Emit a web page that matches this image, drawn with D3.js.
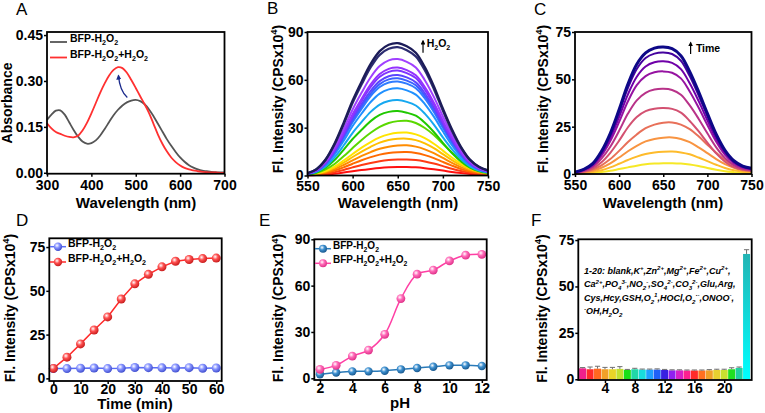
<!DOCTYPE html>
<html lang="en">
<head>
<meta charset="utf-8">
<title>BFP-H2O2 figure</title>
<script src="https://cdn.jsdelivr.net/npm/d3@7"></script>
<style>
  body { margin: 0; background: #fff; }
  svg text { font-family: "Liberation Sans", Arial, sans-serif; fill: #000; }
  .tick text { font-size: 14px; font-weight: bold; }
  .tick line { stroke: #000; stroke-width: 1.5px; }
  .ttl { font-size: 15px; font-weight: bold; }
  .ylab { font-size: 14px; font-weight: bold; }
  .leg { font-size: 10.5px; font-weight: bold; }
  .letter { font-size: 17px; }
  .frame { fill: none; stroke: #000; stroke-width: 1.8px; }
</style>
</head>
<body>
<svg id="fig" width="765" height="413"></svg>
<script>
// ---- A: absorbance ----
var aWave = [300,310,320,330,340,350,360,370,380,390,400,410,420,430,440,450,460,470,480,490,500,
             510,520,530,540,550,560,570,580,590,600,610,620,630,640,650,660,670,680,690,700];
var aProbe = [.173,.19,.203,.204,.19,.165,.14,.118,.102,.095,.097,.106,.122,.143,.166,.188,.206,.22,.23,.236,.238,
              .234,.224,.207,.185,.16,.135,.11,.088,.068,.05,.036,.025,.017,.011,.007,.005,.003,.002,.001,.001];
var aProbeH2O2 = [.162,.145,.133,.127,.121,.117,.116,.121,.138,.163,.194,.228,.262,.292,.318,.336,.345,.342,.327,.303,.277,
                  .25,.224,.195,.16,.125,.095,.07,.05,.035,.024,.016,.011,.008,.005,.003,.002,.001,.001,0,0];
var aTicksX = [300,400,500,600,700];
var aTicksY = [0,0.15,0.30,0.45];

// ---- B: emission vs H2O2 (bottom curve first) ----
var emWave = [550,560,570,580,590,600,610,620,630,640,650,660,670,680,690,700,710,720,730,740,750];
var bSpectra = [
  [0.1,0.3,0.6,1.1,1.9,2.7,3.4,4.1,4.7,5.1,5.3,5.3,5.1,4.6,3.9,3.1,2.2,1.5,0.9,0.5,0.3],
  [0.2,0.5,1.1,2.1,3.5,5.1,6.6,7.9,9,9.7,10,10.1,9.7,8.8,7.5,5.9,4.2,2.8,1.7,1,0.6],
  [0.3,0.7,1.6,3.1,5.1,7.4,9.6,11.5,13.1,14.1,14.6,14.7,14.1,12.8,10.9,8.5,6.2,4.1,2.5,1.5,0.9],
  [0.4,0.9,2.1,4,6.6,9.5,12.3,14.7,16.8,18.1,18.8,18.9,18.1,16.4,14,11,7.9,5.3,3.2,1.9,1.1],
  [0.5,1.2,2.5,4.9,8.1,11.6,15,18,20.6,22.2,23,23.1,22.2,20.1,17.1,13.4,9.7,6.5,3.9,2.3,1.4],
  [0.5,1.3,3,5.6,9.4,13.5,17.5,21,23.9,25.8,26.8,26.9,25.8,23.4,19.9,15.6,11.3,7.5,4.6,2.7,1.6],
  [0.7,1.7,3.8,7.2,12,17.2,22.3,26.8,30.5,32.9,34.1,34.3,32.9,29.8,25.4,19.9,14.4,9.6,5.8,3.4,2.1],
  [0.7,1.9,4.9,9.7,16.1,22.9,28.7,34.1,38,39.9,40.4,39.4,37.5,33.1,27.3,20.5,14.1,8.8,4.9,2.7,1.6],
  [0.9,2.3,5.7,11.4,18.8,26.8,33.6,39.9,44.5,46.7,47.3,46.2,43.9,38.8,31.9,23.9,16.5,10.3,5.7,3.1,1.8],
  [1,2.6,6.6,13.2,21.7,31,38.9,46.1,51.4,54,54.7,53.4,50.7,44.8,36.9,27.7,19.1,11.9,6.6,3.6,2.1],
  [1.1,2.8,7.1,14.2,23.5,33.4,41.9,49.8,55.5,58.3,59,57.6,54.7,48.3,39.8,29.9,20.6,12.8,7.1,3.9,2.3],
  [1.1,2.9,7.4,14.7,24.3,34.5,43.4,51.4,57.3,60.3,61,59.5,56.6,50,41.2,30.9,21.3,13.2,7.4,4,2.4],
  [1.1,3,7.6,15.2,25,35.7,44.8,53.1,59.2,62.2,63,61.5,58.4,51.6,42.5,31.9,22,13.7,7.6,4.2,2.4],
  [1.2,3.2,7.9,15.9,26.2,37.3,46.8,55.5,61.9,65,65.8,64.2,61.1,53.9,44.4,33.3,23,14.3,7.9,4.4,2.5],
  [1.2,3.3,8.2,16.3,26.9,38.4,48.1,57.1,63.6,66.9,67.7,66.1,62.8,55.5,45.7,34.3,23.7,14.7,8.2,4.5,2.6],
  [1.3,3.5,8.8,17.6,29,41.4,52,61.6,68.6,72.2,73,71.3,67.8,59.8,49.3,37,25.5,15.8,8.8,4.8,2.8],
  [1.4,3.9,9.7,19.4,32,45.6,57.2,67.9,75.7,79.5,80.5,78.6,74.7,66,54.3,40.7,28.1,17.5,9.7,5.3,3.1],
  [1.5,4,10,20,33,47,59,70,78,82,83,81,77,68,56,42,29,18,10,5.5,3.2]
];
var bColors = ["#ff1010","#ff3a14","#ff6a00","#ff8c00","#ffc000","#ffe400","#5ad800","#20c800","#16a8f0",
               "#2090ff","#2f7cff","#3a62ff","#5a46ff","#7e34ff","#9432ff","#a040ff","#2c2c70","#1c1c58"];
var bTicksY = [0,30,60,90];
var emTicksX = [550,600,650,700,750];

// ---- C: emission vs time (bottom curve first) ----
var cSpectra = [
  [0.1,0.3,0.5,1,1.7,2.6,3.5,4.4,5.1,5.5,5.7,5.7,5.5,5,4.2,3.2,2.3,1.5,1,0.6,0.4],
  [0.2,0.5,1.1,2,3.5,5.4,7.4,9.2,10.6,11.4,11.8,11.9,11.4,10.4,8.7,6.8,4.9,3.2,2,1.2,0.8],
  [0.4,0.9,1.7,3.3,5.6,8.7,12,14.9,17.2,18.5,19.2,19.3,18.5,16.8,14.1,11,7.9,5.2,3.3,1.9,1.4],
  [0.5,1.2,2.4,4.6,7.9,12.2,16.9,20.9,24.2,26.1,27.1,27.2,26.1,23.7,19.9,15.5,11.2,7.3,4.6,2.7,1.9],
  [0.5,1.3,2.9,6.2,11.2,17.6,24.7,30.1,33.2,34.5,34.8,34.4,32.4,28,22.6,16.6,10.9,6.5,3.6,2.2,1.6],
  [0.7,1.7,3.7,8.1,14.4,22.8,31.9,38.9,42.9,44.6,45,44.4,41.9,36.2,29.2,21.5,14.1,8.4,4.7,2.8,2],
  [0.8,2,4.4,9.7,17.4,27.5,38.4,46.9,51.7,53.7,54.2,53.5,50.5,43.6,35.1,25.9,17,10.1,5.7,3.4,2.4],
  [0.9,2.2,4.9,10.6,19.1,30.2,42.1,51.4,56.8,59,59.5,58.7,55.4,47.9,38.6,28.4,18.6,11.1,6.2,3.7,2.7],
  [1,2.4,5.3,11.5,20.6,32.5,45.5,55.5,61.3,63.6,64.2,63.4,59.8,51.7,41.6,30.6,20.1,12,6.7,4,2.9],
  [1.0,2.5,5.5,12,21.5,34,47.5,58,64,66.5,67.1,66.2,62.5,54,43.5,32,21,12.5,7,4.2,3.0]
];
var cTicksY = [0,25,50,75];

// ---- D: kinetics ----
var dTime = [0,5,10,15,20,25,30,35,40,45,50,55,60];
var dProbe = [5.6,5.6,5.8,5.9,5.6,5.8,6.2,6.1,6.0,5.9,6.1,5.8,5.9];
var dProbeH2O2 = [5.7,12.1,19.7,27.6,35.1,45.3,54,59.4,63.7,66.9,67.9,68.4,68.7];
var dTicksX = [0,10,20,30,40,50,60];
var dTicksY = [0,25,50,75];

// ---- E: pH ----
var ePH = [2,3,4,5,6,7,8,9,10,11,12];
var eProbe = [2.6,3.7,4.5,4.5,4.9,5.8,6.7,7.5,8.4,8.4,8.0];
var eProbeH2O2 = [5.8,8.4,14.4,18.3,28.5,51.6,67.4,70.1,76,79.7,80.3];
var eTicksX = [2,4,6,8,10,12];
var eTicksY = [0,30,60,90];

// ---- F: selectivity ----
var fIndex = [1,2,3,4,5,6,7,8,9,10,11,12,13,14,15,16,17,18,19,20,21,22,23];
var fValues = [5.9,5.4,5.7,5.4,5.4,5.6,5.0,5.4,5.2,5.2,5.2,5.0,4.8,4.8,4.7,4.7,4.7,4.8,5.0,5.0,5.4,6.1,67.5];
var fErrors = [0.4,1.2,1.3,1.0,1.0,1.2,0.3,0.5,0.3,0.3,0.4,0.3,0.3,0.3,0.3,0.3,0.3,0.4,0.4,0.4,0.8,0.5,2.3];
var fColors = ["#f0208c","#ff2a2a","#ff6820","#f0a028","#e8d428","#c0e030","#18e018","#20d8a8","#18dcdc","#20a0ff",
               "#2060f8","#3820e0","#9020f0","#d820c8","#ff2090","#ff2a2a","#ff7020","#f0a028","#e8d030","#c8e030",
               "#20e020","#20d0a0","#00e8e8"];
var fTicksX = [4,8,12,16,20];
var fTicksY = [0,25,50,75];
var fNote = ["1-20: blank,K^+,Zn^{2+},Mg^{2+},Fe^{2+},Cu^{2+},",
             "Ca^{2+},PO_4^{3-},NO_2^-,SO_4^{2-},CO_3^{2-},Glu,Arg,",
             "Cys,Hcy,GSH,O_2^1,HOCl,O_2^{·-},ONOO^-,",
             "^·OH,H_2O_2"];

var svg = d3.select("#fig");
var defs = svg.append("defs");

// text with _x / ^{xy} sub- and superscripts
function rich(sel, str, size) {
  var re = /([_^])(\{[^}]*\}|.)/g, last = 0, m, off = 0;
  function add(t, mode) {
    var shift = mode === "sub" ? size * 0.3 : mode === "sup" ? -size * 0.4 : 0;
    sel.append("tspan").attr("dy", shift - off)
      .style("font-size", mode ? (size * 0.68) + "px" : null).text(t);
    off = shift;
  }
  while ((m = re.exec(str))) {
    if (m.index > last) add(str.slice(last, m.index), null);
    add(m[2][0] === "{" ? m[2].slice(1, -1) : m[2], m[1] === "_" ? "sub" : "sup");
    last = re.lastIndex;
  }
  if (last < str.length) add(str.slice(last), null);
  return sel;
}

function ball(id, base, dark) {
  var gr = defs.append("radialGradient").attr("id", id)
    .attr("cx", "38%").attr("cy", "35%").attr("r", "65%");
  gr.append("stop").attr("offset", "0%").attr("stop-color", "#fff");
  gr.append("stop").attr("offset", "45%").attr("stop-color", base);
  gr.append("stop").attr("offset", "100%").attr("stop-color", dark);
}
ball("redBall", "#ff5050", "#c81e1e");
ball("blueBall", "#8592ff", "#4250d0");
ball("pinkBall", "#ff6ab8", "#e0338a");
ball("navyBall", "#3d90d0", "#1a5a90");

var tall = defs.append("linearGradient").attr("id", "tallBar")
  .attr("x1", 0).attr("y1", 0).attr("x2", 0).attr("y2", 1);
tall.append("stop").attr("offset", "0%").attr("stop-color", "#22b4b4");
tall.append("stop").attr("offset", "100%").attr("stop-color", "#00ffff");

var arrowHead = defs.append("marker").attr("id", "head").attr("viewBox", "0 0 10 10")
  .attr("refX", 8).attr("refY", 5).attr("markerWidth", 4).attr("markerHeight", 4)
  .attr("orient", "auto-start-reverse");
arrowHead.append("path").attr("d", "M0,0L10,5L0,10z").attr("fill", "context-stroke");

function panel(o) {
  var x = d3.scaleLinear().domain(o.xd).range([o.x0, o.x1]);
  var y = d3.scaleLinear().domain(o.yd).range([o.y1, o.y0]);
  var g = svg.append("g");
  var plot = g.append("g");

  g.append("g")
    .attr("transform", "translate(0," + o.y1 + ")")
    .call(d3.axisBottom(x).tickValues(o.xt).tickSize(3).tickPadding(o.xpad).tickFormat(o.xf || d3.format("d")))
    .call(function (a) { a.select(".domain").remove(); });
  g.append("g")
    .attr("transform", "translate(" + o.x0 + ",0)")
    .call(d3.axisLeft(y).tickValues(o.yt).tickSize(3).tickPadding(1).tickFormat(o.yf || d3.format("d")))
    .call(function (a) { a.select(".domain").remove(); });

  g.append("rect").attr("class", "frame")
    .attr("x", o.x0).attr("y", o.y0).attr("width", o.x1 - o.x0).attr("height", o.y1 - o.y0);

  rich(g.append("text").attr("class", "ylab")
    .attr("transform", "translate(" + o.ylx + "," + o.yly + ") rotate(-90)")
    .attr("text-anchor", "middle").attr("dy", "0.36em"), o.ylab, 14);
  if (o.xlab) {
    g.append("text").attr("class", "ttl").attr("x", o.xlx).attr("y", o.xly)
      .attr("text-anchor", "middle").text(o.xlab);
  }
  g.append("text").attr("class", "letter").attr("x", o.lx).attr("y", o.ly).text(o.letter);
  return { x: x, y: y, plot: plot, g: g };
}

var fiLabel = "Fl. Intensity (CPSx10^4)";

// ---------- A ----------
var A = panel({ x0: 47, x1: 224.5, y0: 32, y1: 173.7, xd: [300, 700], yd: [-0.003, 0.46], xpad: 3,
  xt: aTicksX, yt: aTicksY, yf: d3.format(".2f"), ylab: "Absorbance", ylx: 11.5, yly: 103,
  xlab: "Wavelength (nm)", xlx: 136, xly: 208, letter: "A", lx: 16, ly: 15 });
var aLine = d3.line().curve(d3.curveCatmullRom.alpha(0.5))
  .x(function (d) { return A.x(d[0]); }).y(function (d) { return A.y(d[1]); });
A.plot.append("path").attr("d", aLine(d3.zip(aWave, aProbe)))
  .attr("fill", "none").attr("stroke", "#555").attr("stroke-width", 1.8);
A.plot.append("path").attr("d", aLine(d3.zip(aWave, aProbeH2O2)))
  .attr("fill", "none").attr("stroke", "#ff3030").attr("stroke-width", 1.8);
A.plot.append("path")
  .attr("d", "M" + A.x(481) + "," + A.y(0.246) + "Q" + A.x(464) + "," + A.y(0.268) + " " + A.x(461) + "," + A.y(0.318))
  .attr("fill", "none").attr("stroke", "#1a2a8c").attr("stroke-width", 1.3).attr("marker-end", "url(#head)");
[["BFP-H_2O_2", "#555", 42], ["BFP-H_2O_2+H_2O_2", "#ff3030", 57.5]].forEach(function (l) {
  A.g.append("line").attr("x1", 50).attr("x2", 67).attr("y1", l[2]).attr("y2", l[2])
    .attr("stroke", l[1]).attr("stroke-width", 1.8);
  rich(A.g.append("text").attr("class", "leg").attr("x", 70).attr("y", l[2]).attr("dy", "0.36em"), l[0], 10.5);
});

// ---------- B ----------
var B = panel({ x0: 307.5, x1: 488, y0: 32, y1: 175.5, xd: [550, 750], yd: [0, 90], xpad: 3,
  xt: emTicksX, yt: bTicksY, ylab: fiLabel, ylx: 283, yly: 99,
  xlab: "Wavelength (nm)", xlx: 398, xly: 208, letter: "B", lx: 267, ly: 14 });
var bLine = d3.line().curve(d3.curveCatmullRom.alpha(0.5))
  .x(function (d) { return B.x(d[0]); }).y(function (d) { return B.y(d[1]); });
B.plot.selectAll("path").data(bSpectra).enter().append("path")
  .attr("d", function (s) { return bLine(d3.zip(emWave, s)); })
  .attr("fill", "none").attr("stroke", function (s, i) { return bColors[i]; })
  .attr("stroke-width", function (s, i) { return i >= 16 ? 2.3 : 2; });
B.g.append("line").attr("x1", B.x(678)).attr("x2", B.x(678)).attr("y1", B.y(77)).attr("y2", B.y(84.5))
  .attr("stroke", "#000").attr("stroke-width", 1.2).attr("marker-end", "url(#head)");
rich(B.g.append("text").attr("class", "leg").attr("x", B.x(682)).attr("y", B.y(80.5)).attr("dy", "0.36em"), "H_2O_2", 10.5);

// ---------- C ----------
var C = panel({ x0: 575, x1: 751.5, y0: 32, y1: 174, xd: [550, 750], yd: [0, 75], xpad: 3,
  xt: emTicksX, yt: cTicksY, ylab: fiLabel, ylx: 548, yly: 99,
  xlab: "Wavelength (nm)", xlx: 663, xly: 208, letter: "C", lx: 534, ly: 15 });
var cLine = d3.line().curve(d3.curveCatmullRom.alpha(0.5))
  .x(function (d) { return C.x(d[0]); }).y(function (d) { return C.y(d[1]); });
C.plot.selectAll("path").data(cSpectra).enter().append("path")
  .attr("d", function (s) { return cLine(d3.zip(emWave, s)); })
  .attr("fill", "none")
  .attr("stroke", function (s, i) { return d3.interpolatePlasma((cSpectra.length - 1 - i) / (cSpectra.length - 1) * 0.96); })
  .attr("stroke-width", function (s, i) { return i === cSpectra.length - 1 ? 3 : 2; });
C.g.append("line").attr("x1", C.x(681)).attr("x2", C.x(681)).attr("y1", C.y(63.4)).attr("y2", C.y(69.5))
  .attr("stroke", "#000").attr("stroke-width", 1.2).attr("marker-end", "url(#head)");
C.g.append("text").attr("class", "leg").attr("x", C.x(687)).attr("y", C.y(66.3)).attr("dy", "0.36em").text("Time");

// ---------- D ----------
var D = panel({ x0: 49.3, x1: 221.7, y0: 238.3, y1: 381, xd: [-1.5, 62], yd: [-1.5, 80], xpad: 0,
  xt: dTicksX, yt: dTicksY, ylab: fiLabel, ylx: 15, yly: 308,
  xlab: "Time (min)", xlx: 135, xly: 409, letter: "D", lx: 16, ly: 226 });
function series(P, xs, ys, color, fill, r, curve) {
  var line = d3.line().curve(curve)
    .x(function (d) { return P.x(d[0]); }).y(function (d) { return P.y(d[1]); });
  P.plot.append("path").attr("d", line(d3.zip(xs, ys)))
    .attr("fill", "none").attr("stroke", color).attr("stroke-width", 1.5);
  P.plot.append("g").selectAll("circle").data(d3.zip(xs, ys)).enter().append("circle")
    .attr("cx", function (d) { return P.x(d[0]); }).attr("cy", function (d) { return P.y(d[1]); })
    .attr("r", r).attr("fill", "url(#" + fill + ")");
}
function legendRow(P, x0, x1, yy, label, color, fill, r, size) {
  P.g.append("line").attr("x1", x0).attr("x2", x1).attr("y1", yy).attr("y2", yy)
    .attr("stroke", color).attr("stroke-width", 1.5);
  P.g.append("circle").attr("cx", (x0 + x1) / 2).attr("cy", yy).attr("r", r).attr("fill", "url(#" + fill + ")");
  rich(P.g.append("text").attr("class", "leg").style("font-size", size + "px")
    .attr("x", x1 + 2).attr("y", yy).attr("dy", "0.36em"), label, size);
}
series(D, dTime, dProbe, "#5a6cf5", "blueBall", 4.5, d3.curveLinear);
series(D, dTime, dProbeH2O2, "#ff2a2a", "redBall", 4.5, d3.curveLinear);
legendRow(D, 50, 66, 246.7, "BFP-H_2O_2", "#5a6cf5", "blueBall", 4.2, 10.5);
legendRow(D, 50, 66, 262, "BFP-H_2O_2+H_2O_2", "#ff2a2a", "redBall", 4.2, 10.5);

// ---------- E ----------
var E = panel({ x0: 314.3, x1: 486.7, y0: 239.3, y1: 380, xd: [1.65, 12.3], yd: [-1.1, 90], xpad: 0,
  xt: eTicksX, yt: eTicksY, ylab: fiLabel, ylx: 283.3, yly: 308,
  xlab: "pH", xlx: 400, xly: 408, letter: "E", lx: 259, ly: 226 });
series(E, ePH, eProbe, "#2a7ab8", "navyBall", 4.2, d3.curveCatmullRom.alpha(0.5));
series(E, ePH, eProbeH2O2, "#ff3fa4", "pinkBall", 4.4, d3.curveCatmullRom.alpha(0.5));
legendRow(E, 315, 331, 248.7, "BFP-H_2O_2", "#2a7ab8", "navyBall", 4, 10);
legendRow(E, 315, 331, 263.3, "BFP-H_2O_2+H_2O_2", "#ff3fa4", "pinkBall", 4, 10);

// ---------- F ----------
var F = panel({ x0: 578.3, x1: 751.7, y0: 239.3, y1: 380, xd: [0.42, 23.69], yd: [-0.4, 75.4], xpad: 0,
  xt: fTicksX, yt: fTicksY, ylab: fiLabel, ylx: 546.7, yly: 308.5,
  letter: "F", lx: 531, ly: 226 });
var bw = (F.x(1) - F.x(0)) * 0.94;
F.plot.selectAll("rect").data(fIndex).enter().append("rect")
  .attr("x", function (d) { return F.x(d) - bw / 2; })
  .attr("y", function (d, i) { return F.y(fValues[i]); })
  .attr("width", bw)
  .attr("height", function (d, i) { return F.y(0) - F.y(fValues[i]); })
  .attr("fill", function (d, i) { return i === fIndex.length - 1 ? "url(#tallBar)" : fColors[i]; });
var err = F.plot.append("g").attr("stroke", "#707070").attr("stroke-width", 1);
fIndex.forEach(function (d, i) {
  var cx = F.x(d), top = F.y(fValues[i] + fErrors[i]);
  err.append("line").attr("x1", cx).attr("x2", cx).attr("y1", F.y(fValues[i])).attr("y2", top);
  err.append("line").attr("x1", cx - 2.6).attr("x2", cx + 2.6).attr("y1", top).attr("y2", top);
});
fNote.forEach(function (t, i) {
  rich(F.g.append("text").attr("x", 584).attr("y", 274 + i * 13.4).attr("dy", "0.36em")
    .style("font-size", "9px").style("font-weight", "bold").style("font-style", "italic"), t, 9);
});
</script>
</body>
</html>
